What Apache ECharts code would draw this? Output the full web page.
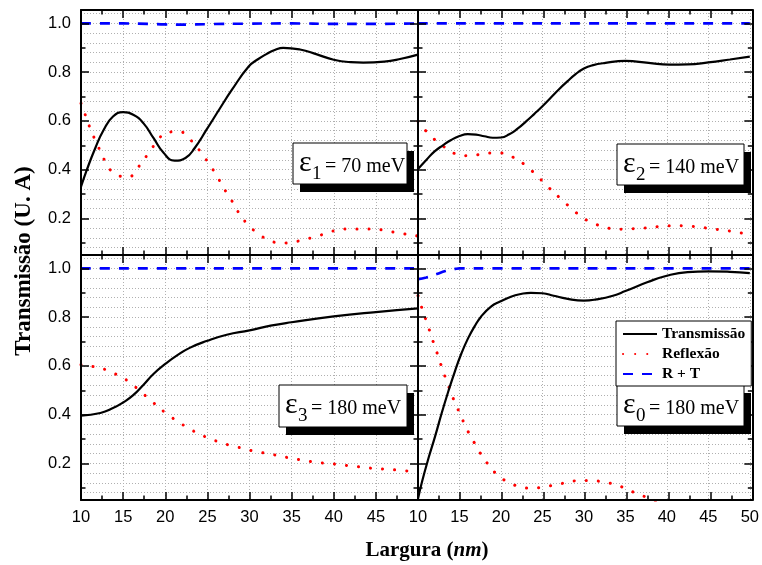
<!DOCTYPE html>
<html><head><meta charset="utf-8">
<script src="https://cdn.jsdelivr.net/npm/echarts@6/dist/echarts.min.js"></script>
<style>html,body{margin:0;padding:0;background:#fff}
#wrap{position:relative;width:762px;height:565px}
#c,#k,#o{position:absolute;left:0;top:0;width:762px;height:565px}
#k,#o{pointer-events:none}</style>
</head><body><div id="wrap"><div id="c"></div><div id="k"></div><div id="o"></div></div>
<script>
// ---- tick labels ----
const xTicksLeft = [10, 15, 20, 25, 30, 35, 40, 45];
const xTicksRight = [10, 15, 20, 25, 30, 35, 40, 45, 50];
const yTicks = [0.2, 0.4, 0.6, 0.8, 1.0];
const seriesNames = ['Transmissão', 'Reflexão', 'R + T'];
const panelLabels = [['1', '= 70 meV'], ['2', '= 140 meV'], ['3', '= 180 meV'], ['0', '= 180 meV']];

// ---- panel 1 (ε1 = 70 meV) ----
const T1_x = [10, 10.7, 11.7, 12.7, 13.8, 15, 16.2, 17.4, 18.6, 19.8, 21.1, 22.4, 23.5, 24.9, 26.5, 27.9, 29.9, 31, 32, 33, 34, 36, 38, 40, 42, 43.5, 46, 48, 50];
const T1_y = [0.33, 0.40, 0.489, 0.564, 0.618, 0.636, 0.625, 0.591, 0.53, 0.469, 0.437, 0.448, 0.489, 0.564, 0.652, 0.727, 0.823, 0.853, 0.874, 0.891, 0.90, 0.893, 0.873, 0.851, 0.841, 0.839, 0.843, 0.855, 0.872];
const R1_x = [10, 10.55, 11.07, 11.66, 12.33, 13.04, 14.15, 15.6, 16.88, 17.9, 18.97, 20.2, 21.6, 23.05, 24.2, 25.2, 26.1, 26.9, 27.8, 28.6, 29.7, 31.1, 32.5, 33.9, 35.3, 36.7, 38.2, 39.6, 41.0, 42.4, 43.9, 45.2, 46.6, 48.1, 49.5, 50];
const R1_y = [0.672, 0.621, 0.571, 0.523, 0.474, 0.425, 0.379, 0.371, 0.414, 0.462, 0.512, 0.553, 0.556, 0.52, 0.473, 0.424, 0.376, 0.327, 0.278, 0.23, 0.179, 0.136, 0.108, 0.099, 0.104, 0.115, 0.129, 0.145, 0.156, 0.157, 0.157, 0.155, 0.147, 0.138, 0.130, 0.128];
const RT1_x = [10, 15, 18, 20, 22, 25, 30, 35, 40, 45, 50];
const RT1_y = [1.0, 1.0, 0.998, 0.996, 0.995, 0.997, 0.999, 1.0, 0.998, 0.998, 1.0];

// ---- panel 2 (ε2 = 140 meV) ----
const T2_x = [10, 11, 12, 13, 14, 15, 16, 17, 18, 19, 20, 21, 22, 23, 24, 25, 26, 27, 28, 29, 30, 31, 32.6, 35, 37.8, 40.3, 42.5, 45, 47.6, 50];
const T2_y = [0.403, 0.44, 0.475, 0.50, 0.522, 0.538, 0.546, 0.544, 0.537, 0.531, 0.532, 0.545, 0.568, 0.597, 0.628, 0.66, 0.695, 0.73, 0.762, 0.792, 0.815, 0.828, 0.838, 0.846, 0.838, 0.831, 0.832, 0.84, 0.852, 0.864];
const R2_x = [10, 11.4, 12.9, 14.3, 15.7, 17.1, 18.6, 20, 21.4, 22.8, 24.2, 25.6, 27.1, 28.5, 29.9, 31.3, 32.7, 34.1, 35.6, 37.0, 38.4, 39.8, 41.3, 42.7, 44.1, 45.4, 46.9, 48.3, 49.8];
const R2_y = [0.598, 0.543, 0.50, 0.468, 0.457, 0.461, 0.468, 0.468, 0.452, 0.422, 0.38, 0.332, 0.284, 0.241, 0.202, 0.178, 0.162, 0.156, 0.157, 0.16, 0.164, 0.17, 0.17, 0.168, 0.164, 0.157, 0.152, 0.144, 0.136];
const RT2_x = [10, 20, 30, 40, 50];
const RT2_y = [1.0, 1.0, 1.0, 1.0, 1.0];

// ---- panel 3 (ε3 = 180 meV) ----
const T3_x = [10, 12.3, 13.8, 15, 16.2, 17.4, 18.6, 20, 21.4, 22.9, 24.9, 27.3, 30, 32.5, 35, 40, 45, 50];
const T3_y = [0.396, 0.407, 0.427, 0.45, 0.48, 0.522, 0.567, 0.608, 0.643, 0.674, 0.702, 0.728, 0.746, 0.765, 0.779, 0.803, 0.821, 0.836];
const R3_x = [10, 11.5, 12.9, 14.2, 15.7, 17.0, 18.5, 19.9, 21.4, 22.8, 24.2, 25.6, 27, 28.5, 29.8, 31.3, 32.7, 34.1, 35.5, 36.9, 38.3, 39.7, 41.2, 42.6, 44.0, 45.4, 46.8, 48.3, 49.7];
const R3_y = [0.605, 0.597, 0.585, 0.565, 0.535, 0.497, 0.452, 0.411, 0.374, 0.344, 0.318, 0.298, 0.281, 0.268, 0.256, 0.246, 0.237, 0.227, 0.218, 0.21, 0.203, 0.199, 0.193, 0.188, 0.182, 0.178, 0.175, 0.17, 0.167];
const RT3_x = [10, 20, 30, 40, 50];
const RT3_y = [1.0, 1.0, 1.0, 1.0, 1.0];

// ---- panel 4 (ε0 = 180 meV) ----
const T4_x = [10, 10.5, 11.27, 12.06, 12.86, 13.65, 14.44, 15.24, 16.03, 16.8, 17.6, 18.8, 19.9, 21.2, 22.4, 23.6, 25, 26.35, 27.9, 30, 31.5, 33.5, 35, 37.7, 40.1, 42.5, 45, 47.6, 50];
const T4_y = [0.055, 0.127, 0.222, 0.311, 0.407, 0.495, 0.577, 0.652, 0.713, 0.761, 0.802, 0.843, 0.864, 0.884, 0.895, 0.9, 0.898, 0.888, 0.876, 0.868, 0.873, 0.888, 0.907, 0.944, 0.971, 0.985, 0.988, 0.986, 0.981];
const R4_x = [10, 10.48, 10.95, 11.43, 11.9, 12.38, 12.86, 13.37, 13.93, 14.48, 15.12, 15.75, 16.5, 17.3, 18.3, 19.56, 21.0, 22.4, 23.8, 25.2, 26.7, 28.1, 29.5, 30.9, 32.4, 33.8, 35.2, 36.6, 38.0, 39.0];
const R4_y = [0.888, 0.836, 0.789, 0.741, 0.692, 0.645, 0.595, 0.546, 0.495, 0.447, 0.4, 0.35, 0.303, 0.254, 0.203, 0.154, 0.121, 0.104, 0.098, 0.104, 0.113, 0.123, 0.13, 0.13, 0.123, 0.113, 0.094, 0.073, 0.056, 0.04];
const RT4_x = [10, 11, 12.26, 13.3, 14.5, 15, 20, 30, 40, 50];
const RT4_y = [0.956, 0.963, 0.977, 0.989, 0.998, 1.0, 1.0, 1.0, 1.0, 1.0];

const panels = [
  {T: [T1_x, T1_y], R: [R1_x, R1_y], RT: [RT1_x, RT1_y]},
  {T: [T2_x, T2_y], R: [R2_x, R2_y], RT: [RT2_x, RT2_y]},
  {T: [T3_x, T3_y], R: [R3_x, R3_y], RT: [RT3_x, RT3_y]},
  {T: [T4_x, T4_y], R: [R4_x, R4_y], RT: [RT4_x, RT4_y]}
];
const zip = (a) => a[0].map((x, i) => [x, a[1][i]]);

const gridRects = [
  {left: 81, top: 10, width: 337, height: 245},
  {left: 418, top: 10, width: 336, height: 245},
  {left: 81, top: 255, width: 337, height: 245},
  {left: 418, top: 255, width: 336, height: 245}
];
const boxRects = [
  {x: 293, y: 143, w: 114, h: 41},
  {x: 617, y: 144, w: 127, h: 41},
  {x: 279, y: 385, w: 128, h: 42},
  {x: 617, y: 385, w: 127, h: 41}
];

const SERIF = '"Liberation Serif", "Times New Roman", serif';
const SANS = '"Liberation Sans", Arial, sans-serif';
const lineStyles = [
  {color: '#000', width: 2.2},
  {color: '#ff0000', width: 3, type: [0.1, 12], cap: 'round'},
  {color: '#0000ff', width: 2.6, type: [10, 9]}
];
const gridLine = () => ({show: true, lineStyle: {color: '#b0b0b0', width: 1, type: [1, 2]}});
const axisLine = () => ({show: true, lineStyle: {color: '#000', width: 2}});
const axisTick = () => ({show: true, inside: true, length: 8, lineStyle: {color: '#000', width: 1.5}});
const minorTick = () => ({show: true, splitNumber: 2, length: 4.5, lineStyle: {color: '#000', width: 1.5}});

// ===== main chart: grid lines, tick labels and the curves =====
const grid = [], xAxis = [], yAxis = [], series = [];
gridRects.forEach((g, i) => {
  grid.push(Object.assign({containLabel: false}, g));
  const showX = i >= 2;
  const xt = i === 2 ? xTicksLeft : xTicksRight;
  xAxis.push({
    type: 'value', gridIndex: i, position: 'bottom', min: 10, max: 50, interval: 5,
    axisLine: {show: false}, axisTick: {show: false}, splitLine: gridLine(),
    axisLabel: {show: true, margin: 9, color: showX ? '#000' : 'rgba(0,0,0,0)', fontSize: 16.5, fontFamily: SANS,
      formatter: v => xt.indexOf(v) >= 0 ? String(v) : ''}
  });
  const showY = i % 2 === 0;
  yAxis.push({
    type: 'value', gridIndex: i, position: 'left', min: 0.05, max: 1.055, splitNumber: 5,
    axisLine: {show: false}, axisTick: {show: false}, splitLine: gridLine(), minorSplitLine: gridLine(),
    axisLabel: {show: true, margin: 10, color: showY ? '#000' : 'rgba(0,0,0,0)', fontSize: 16.5, fontFamily: SANS,
      formatter: v => yTicks.some(t => Math.abs(t - v) < 1e-6) ? v.toFixed(1) : ''}
  });
  const p = panels[i];
  const keys = ['T', 'R', 'RT'];
  const zs = [3, 2, 4];
  keys.forEach((k, j) => {
    series.push({type: 'line', name: seriesNames[j], xAxisIndex: i, yAxisIndex: i, symbol: 'none',
      smooth: 0.5, itemStyle: {opacity: 0}, z: zs[j], data: zip(p[k]),
      lineStyle: Object.assign({}, lineStyles[j])});
  });
});
const chart = echarts.init(document.getElementById('c'), null, {renderer: 'canvas', width: 762, height: 565});
chart.setOption({backgroundColor: '#fff', animation: false, grid, xAxis, yAxis, series});

// ===== frame layer: axis lines and inside ticks on all four sides =====
const kGrid = [], kX = [], kY = [];
gridRects.forEach((g, i) => {
  kGrid.push(Object.assign({containLabel: false}, g));
  kX.push({type: 'value', gridIndex: i, position: 'bottom', min: 10, max: 50, interval: 5,
    axisLine: axisLine(), axisTick: axisTick(), minorTick: minorTick(), splitLine: {show: false},
    axisLabel: {show: true, color: 'rgba(0,0,0,0)', formatter: v => String(v)}});
  kX.push({type: 'value', gridIndex: i, position: 'top', min: 10, max: 50, interval: 5,
    axisLine: axisLine(), axisTick: axisTick(), minorTick: minorTick(), splitLine: {show: false},
    axisLabel: {show: false}});
  kY.push({type: 'value', gridIndex: i, position: 'left', min: 0.05, max: 1.055, splitNumber: 5,
    axisLine: axisLine(), axisTick: axisTick(), minorTick: minorTick(), splitLine: {show: false},
    axisLabel: {show: true, color: 'rgba(0,0,0,0)', formatter: v => v.toFixed(1)}});
  kY.push({type: 'value', gridIndex: i, position: 'right', min: 0.05, max: 1.055, splitNumber: 5,
    axisLine: axisLine(), axisTick: axisTick(), minorTick: minorTick(), splitLine: {show: false},
    axisLabel: {show: false}});
});
const frame = echarts.init(document.getElementById('k'), null, {renderer: 'canvas', width: 762, height: 565});
frame.setOption({backgroundColor: 'transparent', animation: false, grid: kGrid, xAxis: kX, yAxis: kY});

// ===== overlay: panel labels, axis titles and legend =====
const graphic = [];
boxRects.forEach((b, i) => {
  graphic.push({
    type: 'group', x: b.x, y: b.y,
    children: [
      {type: 'rect', shape: {x: 7, y: 8, width: b.w, height: b.h}, style: {fill: '#000'}},
      {type: 'rect', shape: {x: 0, y: 0, width: b.w, height: b.h}, style: {fill: '#fff', stroke: '#000', lineWidth: 1}},
      {type: 'text', x: 6, y: 20.5, style: {text: 'ε', fontSize: 30, fontFamily: SERIF, fill: '#000', verticalAlign: 'middle', align: 'left'}},
      {type: 'text', x: 19, y: 31, style: {text: panelLabels[i][0], fontSize: 19, fontFamily: SERIF, fill: '#000', verticalAlign: 'middle', align: 'left'}},
      {type: 'text', x: 32, y: 23.5, style: {text: panelLabels[i][1], fontSize: 20, fontFamily: SERIF, fill: '#000', verticalAlign: 'middle', align: 'left'}}
    ]
  });
});
graphic.push({
  type: 'text', x: 24, y: 261, rotation: Math.PI / 2,
  style: {text: 'Transmissão (U. A)', fontSize: 23, fontWeight: 'bold', fontFamily: SERIF, fill: '#000', align: 'center', verticalAlign: 'middle'}
});
graphic.push({
  type: 'text', x: 427, y: 551,
  style: {
    text: '{a|Largura (}{b|nm}{a|)}', align: 'center', verticalAlign: 'middle',
    rich: {
      a: {fontSize: 21, fontWeight: 'bold', fontFamily: SERIF, fill: '#000', color: '#000'},
      b: {fontSize: 21, fontWeight: 'bold', fontStyle: 'italic', fontFamily: SERIF, fill: '#000', color: '#000'}
    }
  }
});
const overlay = echarts.init(document.getElementById('o'), null, {renderer: 'canvas', width: 762, height: 565});
overlay.setOption({
  backgroundColor: 'transparent',
  animation: false,
  graphic,
  grid: {show: false, left: 0, top: 0, width: 10, height: 10},
  xAxis: {type: 'value', show: false},
  yAxis: {type: 'value', show: false},
  series: seriesNames.map((n, j) => ({type: 'line', name: n, data: [], symbol: 'none',
    itemStyle: {opacity: 0}, lineStyle: Object.assign({}, lineStyles[j])})),
  legend: {
    data: seriesNames, left: 616, top: 321, orient: 'vertical',
    backgroundColor: '#fff', borderColor: '#000', borderWidth: 1,
    padding: [5, 6, 4, 6], itemGap: 4, itemWidth: 34, itemHeight: 14,
    itemStyle: {opacity: 0},
    textStyle: {fontFamily: SERIF, fontWeight: 'bold', fontSize: 15.5, color: '#000'},
    selectedMode: false
  }
});
</script>
</body></html>
